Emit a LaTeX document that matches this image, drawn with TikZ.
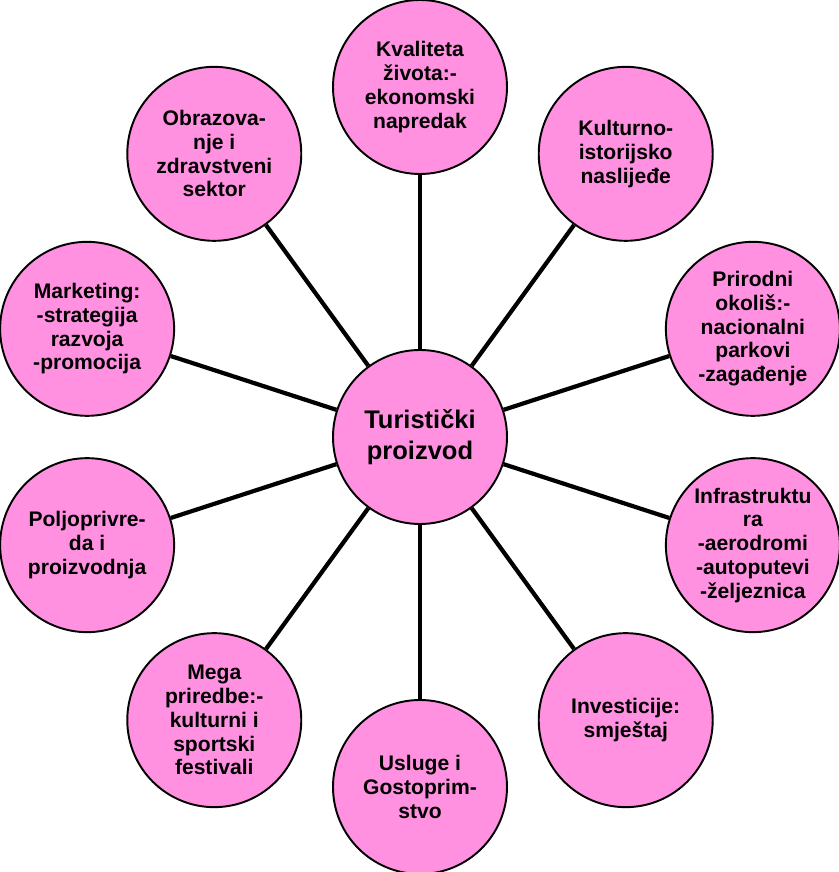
\documentclass[tikz,border=0pt]{standalone}
\usepackage{fontspec}
\setmainfont{Liberation Sans}
\usetikzlibrary{calc}
\definecolor{rozi}{RGB}{255,145,224}
\begin{document}
\begin{tikzpicture}[x=1.0cm,y=1.0cm,
	krug/.style={circle,draw=black,line width=1.1pt,fill=rozi,minimum size=3.48cm,inner sep=0pt,align=center,font=\fontsize{12}{13.5}\selectfont\bfseries},
	veza/.style={line width=2.4pt}]
		\useasboundingbox (0,0) rectangle (16.78,17.44);
		\node[krug,font=\fontsize{14.5}{17.5}\selectfont\bfseries] (tp) at (8.4,8.7) {Turistički\\proizvod};
		\node[krug] (kv) at ($(tp)+(90:7)$) {Kvaliteta\\života:-\\ekonomski\\napredak};
		\node[krug] (ku) at ($(tp)+(54:7)$) {Kulturno-\\istorijsko\\naslijeđe};
		\node[krug] (pr) at ($(tp)+(18:7)$) {Prirodni\\okoliš:-\\nacionalni\\parkovi\\-zagađenje};
		\node[krug] (in) at ($(tp)+(-18:7)$) {Infrastruktu\\ra\\-aerodromi\\-autoputevi\\-željeznica};
		\node[krug] (iv) at ($(tp)+(-54:7)$) {Investicije:\\smještaj};
		\node[krug] (us) at ($(tp)+(-90:7)$) {Usluge i\\Gostoprim-\\stvo};
		\node[krug] (me) at ($(tp)+(-126:7)$) {Mega\\priredbe:-\\kulturni i\\sportski\\festivali};
		\node[krug] (po) at ($(tp)+(-162:7)$) {Poljoprivre-\\da i\\proizvodnja};
		\node[krug] (ma) at ($(tp)+(162:7)$) {Marketing:\\-strategija\\razvoja\\-promocija};
		\node[krug] (ob) at ($(tp)+(126:7)$) {Obrazova-\\nje i\\zdravstveni\\sektor};
		\foreach \o in {kv,ku,pr,in,iv,us,me,po,ma,ob}
			\draw[veza] (tp) -- (\o);
		\end{tikzpicture}
\end{document}
